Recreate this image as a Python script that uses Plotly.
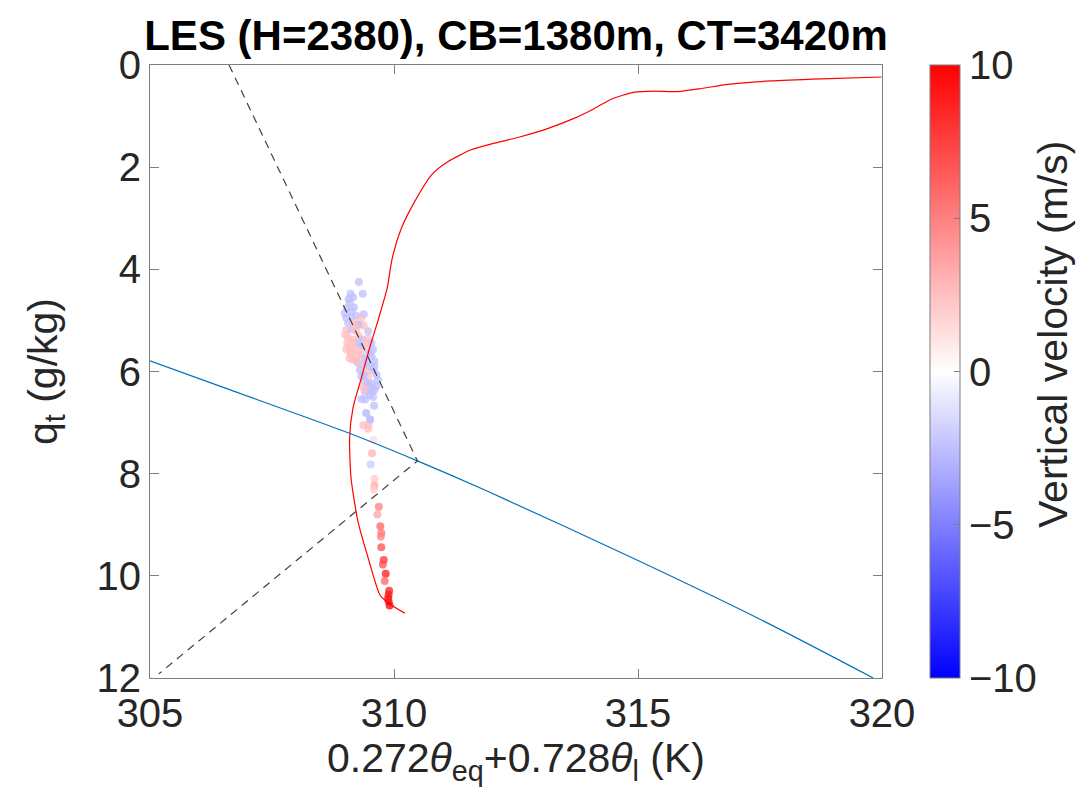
import plotly.graph_objects as go

# ---------------- data ----------------
# LES mean profile (red line)
prof_x = [319.99, 318.76, 317.73, 316.84, 316.30, 315.82, 315.34, 314.93, 314.45, 314.11,
          313.70, 313.16, 312.61, 312.06, 311.58, 311.11, 310.77, 310.42, 310.15, 309.96,
          309.86, 309.67, 309.50, 309.33, 309.16, 309.09, 309.12, 309.26, 309.47, 309.71,
          309.88, 310.22]
prof_q = [0.235, 0.27, 0.31, 0.38, 0.46, 0.52, 0.51, 0.53, 0.67, 0.85,
          1.04, 1.24, 1.40, 1.53, 1.66, 1.89, 2.15, 2.68, 3.20, 3.80,
          4.37, 5.01, 5.54, 6.13, 6.71, 7.30, 8.09, 8.93, 9.65, 10.37,
          10.53, 10.73]

# saturation curve (blue line)
sat_x = [305.0, 306.53, 309.06, 310.48, 311.93, 315.0, 317.5, 319.82]
sat_q = [5.79, 6.32, 7.20, 7.75, 8.35, 9.70, 10.85, 12.0]

# mixing lines (dashed)
mix_x = [306.62, 310.48, 305.18]
mix_q = [0.0, 7.75, 11.92]

# cloud samples
sc_x = [309.28, 309.11, 309.36, 309.07, 309.16, 309.04, 309.18, 309.13, 309.38, 309.02,
        309.13, 309.23, 309.06, 309.18, 309.30, 309.38, 309.02, 309.13, 309.23, 309.47,
        309.06, 309.16, 309.28, 309.36, 309.47, 309.54, 309.09, 309.19, 309.33, 309.43,
        309.57, 309.11, 309.23, 309.16, 309.33, 309.40, 309.54, 309.60, 309.26, 309.36,
        309.50, 309.30, 309.43, 309.57, 309.64, 309.33, 309.47, 309.40, 309.54, 309.67,
        309.36, 309.50, 309.60, 309.40, 309.57, 309.33, 309.41, 309.59, 309.51, 309.37,
        309.48, 309.47, 309.43, 309.51, 309.58, 309.55, 309.52, 309.60, 309.60, 309.59,
        309.69, 309.66, 309.72, 309.74, 309.73, 309.74, 309.79, 309.77, 309.83, 309.81,
        309.90, 309.89, 309.88, 309.89, 309.91,
        309.00, 309.04, 309.12, 309.02, 309.19, 309.26, 309.09, 309.23, 309.30, 309.40,
        309.50, 309.43, 309.60, 309.47, 309.43, 309.26, 309.33, 308.99, 309.09, 309.19,
        309.54, 309.64, 309.38, 309.50]
sc_q = [4.25, 4.48, 4.48, 4.58, 4.55, 4.76, 4.74, 4.82, 4.88, 4.95,
        4.93, 4.91, 5.05, 5.04, 5.08, 5.10, 5.19, 5.18, 5.21, 5.21,
        5.33, 5.38, 5.31, 5.38, 5.35, 5.44, 5.51, 5.54, 5.51, 5.56,
        5.57, 5.67, 5.70, 5.77, 5.67, 5.74, 5.70, 5.80, 5.83, 5.87,
        5.90, 5.97, 6.00, 5.97, 6.06, 6.10, 6.10, 6.19, 6.23, 6.16,
        6.29, 6.30, 6.36, 6.39, 6.50, 6.54, 6.55, 6.67, 6.94, 7.05,
        7.04, 7.12, 6.81, 6.94, 7.34, 7.60, 7.82, 8.10, 8.23, 8.31,
        8.65, 8.80, 9.03, 9.16, 9.23, 9.44, 9.69, 9.78, 9.96, 10.10,
        10.29, 10.37, 10.44, 10.50, 10.58,
        5.28, 5.44, 5.61, 5.57, 5.44, 5.61, 5.74, 5.80, 5.44, 5.44,
        5.64, 5.84, 5.90, 6.23, 6.36, 5.08, 4.95, 4.86, 4.66, 5.12,
        6.39, 6.29, 6.06, 6.46]
sc_w = [-2.5, -2.5, -2.5, -2.5, -2.5, -2.5, -2.5, -2.5, -2.5, -2.5,
        -2.5, -2.5, -2.5, 2.5, 2.5, 2.5, 2.5, -2.5, 2.5, -2.5,
        2.5, 2.5, 2.5, -2.5, 2.5, -2.5, 2.5, 2.5, -2.5, 2.5,
        -2.5, 2.5, 2.5, 2.5, 2.5, -2.5, -2.5, -2.5, -2.5, 2.5,
        -2.5, -2.5, 2.5, -2.5, -2.5, -2.5, 2.5, -2.5, -2.5, -2.5,
        2.5, -2.5, -2.5, -2.5, -2.5, -2.5, -2.5, -2.5, -2.5, 2.5,
        2.5, 2.5, -3.0, -2.5, 1.5, 3.0, -2.0, 2.0, 3.5, 2.0,
        5.0, 3.5, 6.0, 5.5, 5.0, 7.0, 8.0, 7.0, 9.0, 6.0,
        9.0, 9.0, 9.5, 9.0, 10.0,
        2.5, 2.5, 2.5, 2.5, 2.5, 2.5, 2.5, 2.5, -2.5, 2.5,
        -2.5, -2.5, -2.5, -2.5, 2.5, -2.5, 2.5, -2.5, -2.5, 2.5,
        -2.5, -2.5, -2.5, -2.5]

x_ticks = [305, 310, 315, 320]
y_ticks = [0, 2, 4, 6, 8, 10, 12]
cb_ticks = [-10, -5, 0, 5, 10]

FONT = "Liberation Sans"
AX = "#7f7f7f"
TXT = "#262626"

fig = go.Figure()

fig.add_trace(go.Scatter(
    x=sc_x, y=sc_q, mode="markers",
    marker=dict(size=8, color=sc_w, cmin=-10, cmax=10, opacity=0.75,
                colorscale=[[0, "rgb(0,0,255)"], [0.5, "rgb(255,255,255)"], [1, "rgb(255,0,0)"]],
                line=dict(width=0),
                showscale=True,
                colorbar=dict(
                    x=(922 - 142) / 732, xanchor="left", xpad=0,
                    y=0, yanchor="bottom", ypad=0,
                    len=1, lenmode="fraction", thickness=30, thicknessmode="pixels",
                    outlinecolor=AX, outlinewidth=1,
                    tickvals=cb_ticks, ticks="inside", ticklen=6, tickcolor=AX,
                    tickfont=dict(family=FONT, size=40, color=TXT),
                )),
    showlegend=False, hoverinfo="skip"))

fig.add_trace(go.Scatter(x=prof_x, y=prof_q, mode="lines",
                         line=dict(color="#ff0000", width=1.2, shape="spline", smoothing=0.6),
                         showlegend=False))
fig.add_trace(go.Scatter(x=sat_x, y=sat_q, mode="lines",
                         line=dict(color="#0072BD", width=1.2, shape="spline", smoothing=0.8),
                         showlegend=False))
fig.add_trace(go.Scatter(x=mix_x, y=mix_q, mode="lines",
                         line=dict(color="#404040", width=1.2, dash="8px,6px"),
                         showlegend=False))

fig.add_annotation(text="Vertical velocity (m/s)", textangle=-90,
                   xref="paper", yref="paper",
                   x=(1045 - 142) / 732, y=(670 - 327) / 613,
                   xanchor="center", yanchor="middle", showarrow=False,
                   font=dict(family=FONT, size=41, color=TXT))

fig.update_layout(
    width=1091, height=792,
    margin=dict(l=142, r=217, t=57, b=122, autoexpand=False),
    paper_bgcolor="white", plot_bgcolor="white",
    font=dict(family=FONT, color=TXT),
    title=dict(text="<b>LES (H=2380), CB=1380m, CT=3420m</b>",
               x=508 / 1091, xanchor="center", y=1 - 27 / 792, yanchor="middle",
               font=dict(family=FONT, size=42, color="black")),
    xaxis=dict(range=[305, 320], tickvals=x_ticks, ticks="inside", ticklen=9,
               tickcolor=AX, showline=True, linecolor=AX, linewidth=1, mirror="ticks",
               showgrid=False, zeroline=False,
               tickfont=dict(family=FONT, size=40, color=TXT),
               title=dict(text="0.272<i>θ</i><sub>eq</sub>+0.728<i>θ</i><sub>l</sub> (K)",
                          font=dict(family=FONT, size=41, color=TXT), standoff=0)),
    yaxis=dict(range=[12, 0], tickvals=y_ticks, ticks="inside", ticklen=9,
               tickcolor=AX, showline=True, linecolor=AX, linewidth=1, mirror="ticks",
               showgrid=False, zeroline=False,
               tickfont=dict(family=FONT, size=40, color=TXT),
               title=dict(text="q<sub>t</sub> (g/kg)",
                          font=dict(family=FONT, size=41, color=TXT), standoff=26)),
)

fig.write_html("out.html")
